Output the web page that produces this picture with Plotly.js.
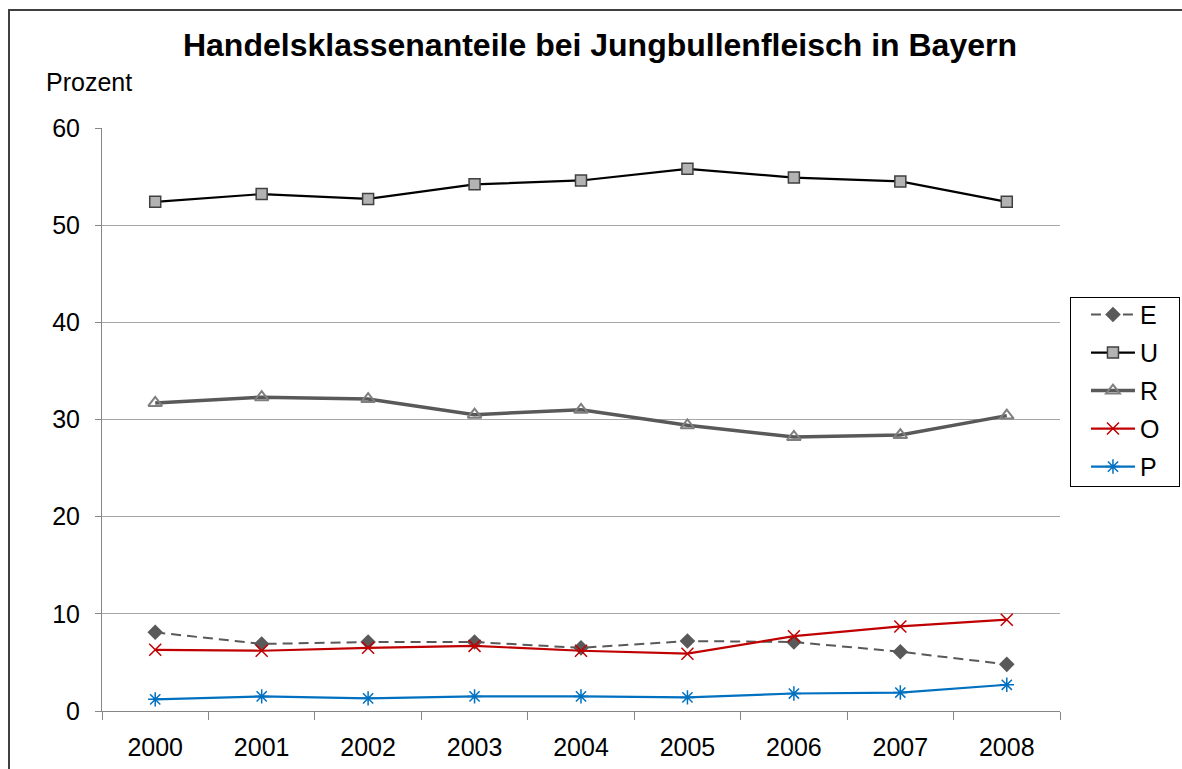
<!DOCTYPE html>
<html>
<head>
<meta charset="utf-8">
<script src="https://cdn.plot.ly/plotly-3.0.1.min.js"></script>
<style>
  html, body { margin: 0; padding: 0; background: #fff; overflow: hidden; }
  #wrap { position: relative; width: 1182px; height: 769px; overflow: hidden; }
  #chart { width: 1182px; height: 769px; }
  #frame { position: absolute; left: 8px; top: 9px; width: 1300px; height: 900px;
           border-left: 2px solid #404040; border-top: 2px solid #404040; pointer-events: none; }
  #legendbox { position: absolute; left: 1070px; top: 297px; width: 110px; height: 190px;
               border: 1px solid #000; box-sizing: border-box; pointer-events: none; }
</style>
</head>
<body>
<div id="wrap">
  <div id="chart"></div>
  <div id="frame"></div>
  <div id="legendbox"></div>
</div>
<script>
const years = ["2000", "2001", "2002", "2003", "2004", "2005", "2006", "2007", "2008"];
const seriesE = [8.1, 6.9, 7.1, 7.1, 6.5, 7.2, 7.1, 6.1, 4.8];
const seriesU = [52.4, 53.2, 52.7, 54.2, 54.6, 55.8, 54.9, 54.5, 52.4];
const seriesR = [31.7, 32.3, 32.1, 30.5, 31.0, 29.4, 28.2, 28.4, 30.4];
const seriesO = [6.3, 6.2, 6.5, 6.7, 6.2, 5.9, 7.7, 8.7, 9.4];
const seriesP = [1.2, 1.5, 1.3, 1.5, 1.5, 1.4, 1.8, 1.9, 2.7];
const yTicks = [0, 10, 20, 30, 40, 50, 60];

const FONT = "Liberation Sans, Arial, sans-serif";

const traces = [
  { name: "E", x: years, y: seriesE, type: "scatter", mode: "lines+markers", legendgroup: "E",
    line: { color: "#595959", width: 2, dash: "10px,6px" },
    marker: { symbol: "diamond", size: 12, color: "#595959" } },
  { name: "U", x: years, y: seriesU, type: "scatter", mode: "lines+markers", legendgroup: "U",
    line: { color: "#000000", width: 2.2 },
    marker: { symbol: "square", size: 11, color: "#b3b3b3", line: { color: "#404040", width: 1.5 } } },
  { name: "R", x: years, y: seriesR, type: "scatter", mode: "lines+markers", legendgroup: "R",
    line: { color: "#595959", width: 3.5 },
    marker: { symbol: "triangle-up-open", size: 12, color: "#7f7f7f", line: { color: "#7f7f7f", width: 2 } } },
  { name: "O", x: years, y: seriesO, type: "scatter", mode: "lines+markers", legendgroup: "O",
    line: { color: "#c00000", width: 2.2 },
    marker: { symbol: "x-thin-open", size: 12, color: "#c00000", line: { color: "#c00000", width: 1.5 } } },
  { name: "P", x: years, y: seriesP, type: "scatter", mode: "lines+markers", legendgroup: "P",
    line: { color: "#0070c0", width: 2.2 },
    marker: { symbol: "asterisk-open", size: 12, color: "#0070c0", line: { color: "#0070c0", width: 1.5 } } }
];

const layout = {
  width: 1182, height: 769,
  margin: { l: 102, r: 122, t: 128, b: 58, autoexpand: false },
  paper_bgcolor: "rgba(0,0,0,0)", plot_bgcolor: "rgba(0,0,0,0)",
  font: { family: FONT, size: 25, color: "#000000" },
  title: {
    text: "<b>Handelsklassenanteile bei Jungbullenfleisch in Bayern</b>",
    font: { family: FONT, size: 32, color: "#000000" },
    xref: "container", x: 0.5076, xanchor: "center",
    yref: "container", y: 0.942, yanchor: "middle"
  },
  xaxis: {
    type: "category", range: [-0.5, 8.5],
    tickson: "boundaries", ticks: "outside", ticklen: 8, tickcolor: "#868686", tickwidth: 1,
    showgrid: false, showline: true, linecolor: "#868686", linewidth: 1,
    tickfont: { family: FONT, size: 25, color: "#000000" },
    ticklabelstandoff: 14, zeroline: false, fixedrange: true
  },
  yaxis: {
    range: [0, 60], tickmode: "array", tickvals: yTicks, ticktext: yTicks.map(String),
    ticks: "outside", ticklen: 6, tickcolor: "#868686", tickwidth: 1,
    showgrid: true, gridcolor: "#a6a6a6", gridwidth: 1,
    showline: true, linecolor: "#868686", linewidth: 1,
    tickfont: { family: FONT, size: 25, color: "#000000" },
    ticklabelstandoff: 10, zeroline: false, fixedrange: true
  },
  legend: {
    x: 1.0271, xanchor: "left", y: 0.719, yanchor: "top",
    borderwidth: 0, bgcolor: "rgba(0,0,0,0)",
    font: { family: FONT, size: 25, color: "#000000" },
    traceorder: "grouped", tracegroupgap: 2.5, itemwidth: 44
  },
  annotations: [
    { text: "Prozent", xref: "paper", yref: "paper", x: -0.0605, y: 1.0789,
      xanchor: "left", yanchor: "middle", showarrow: false,
      font: { family: FONT, size: 25, color: "#000000" } }
  ],
  showlegend: true
};

Plotly.newPlot("chart", traces, layout, { displayModeBar: false, staticPlot: true });
</script>
</body>
</html>
